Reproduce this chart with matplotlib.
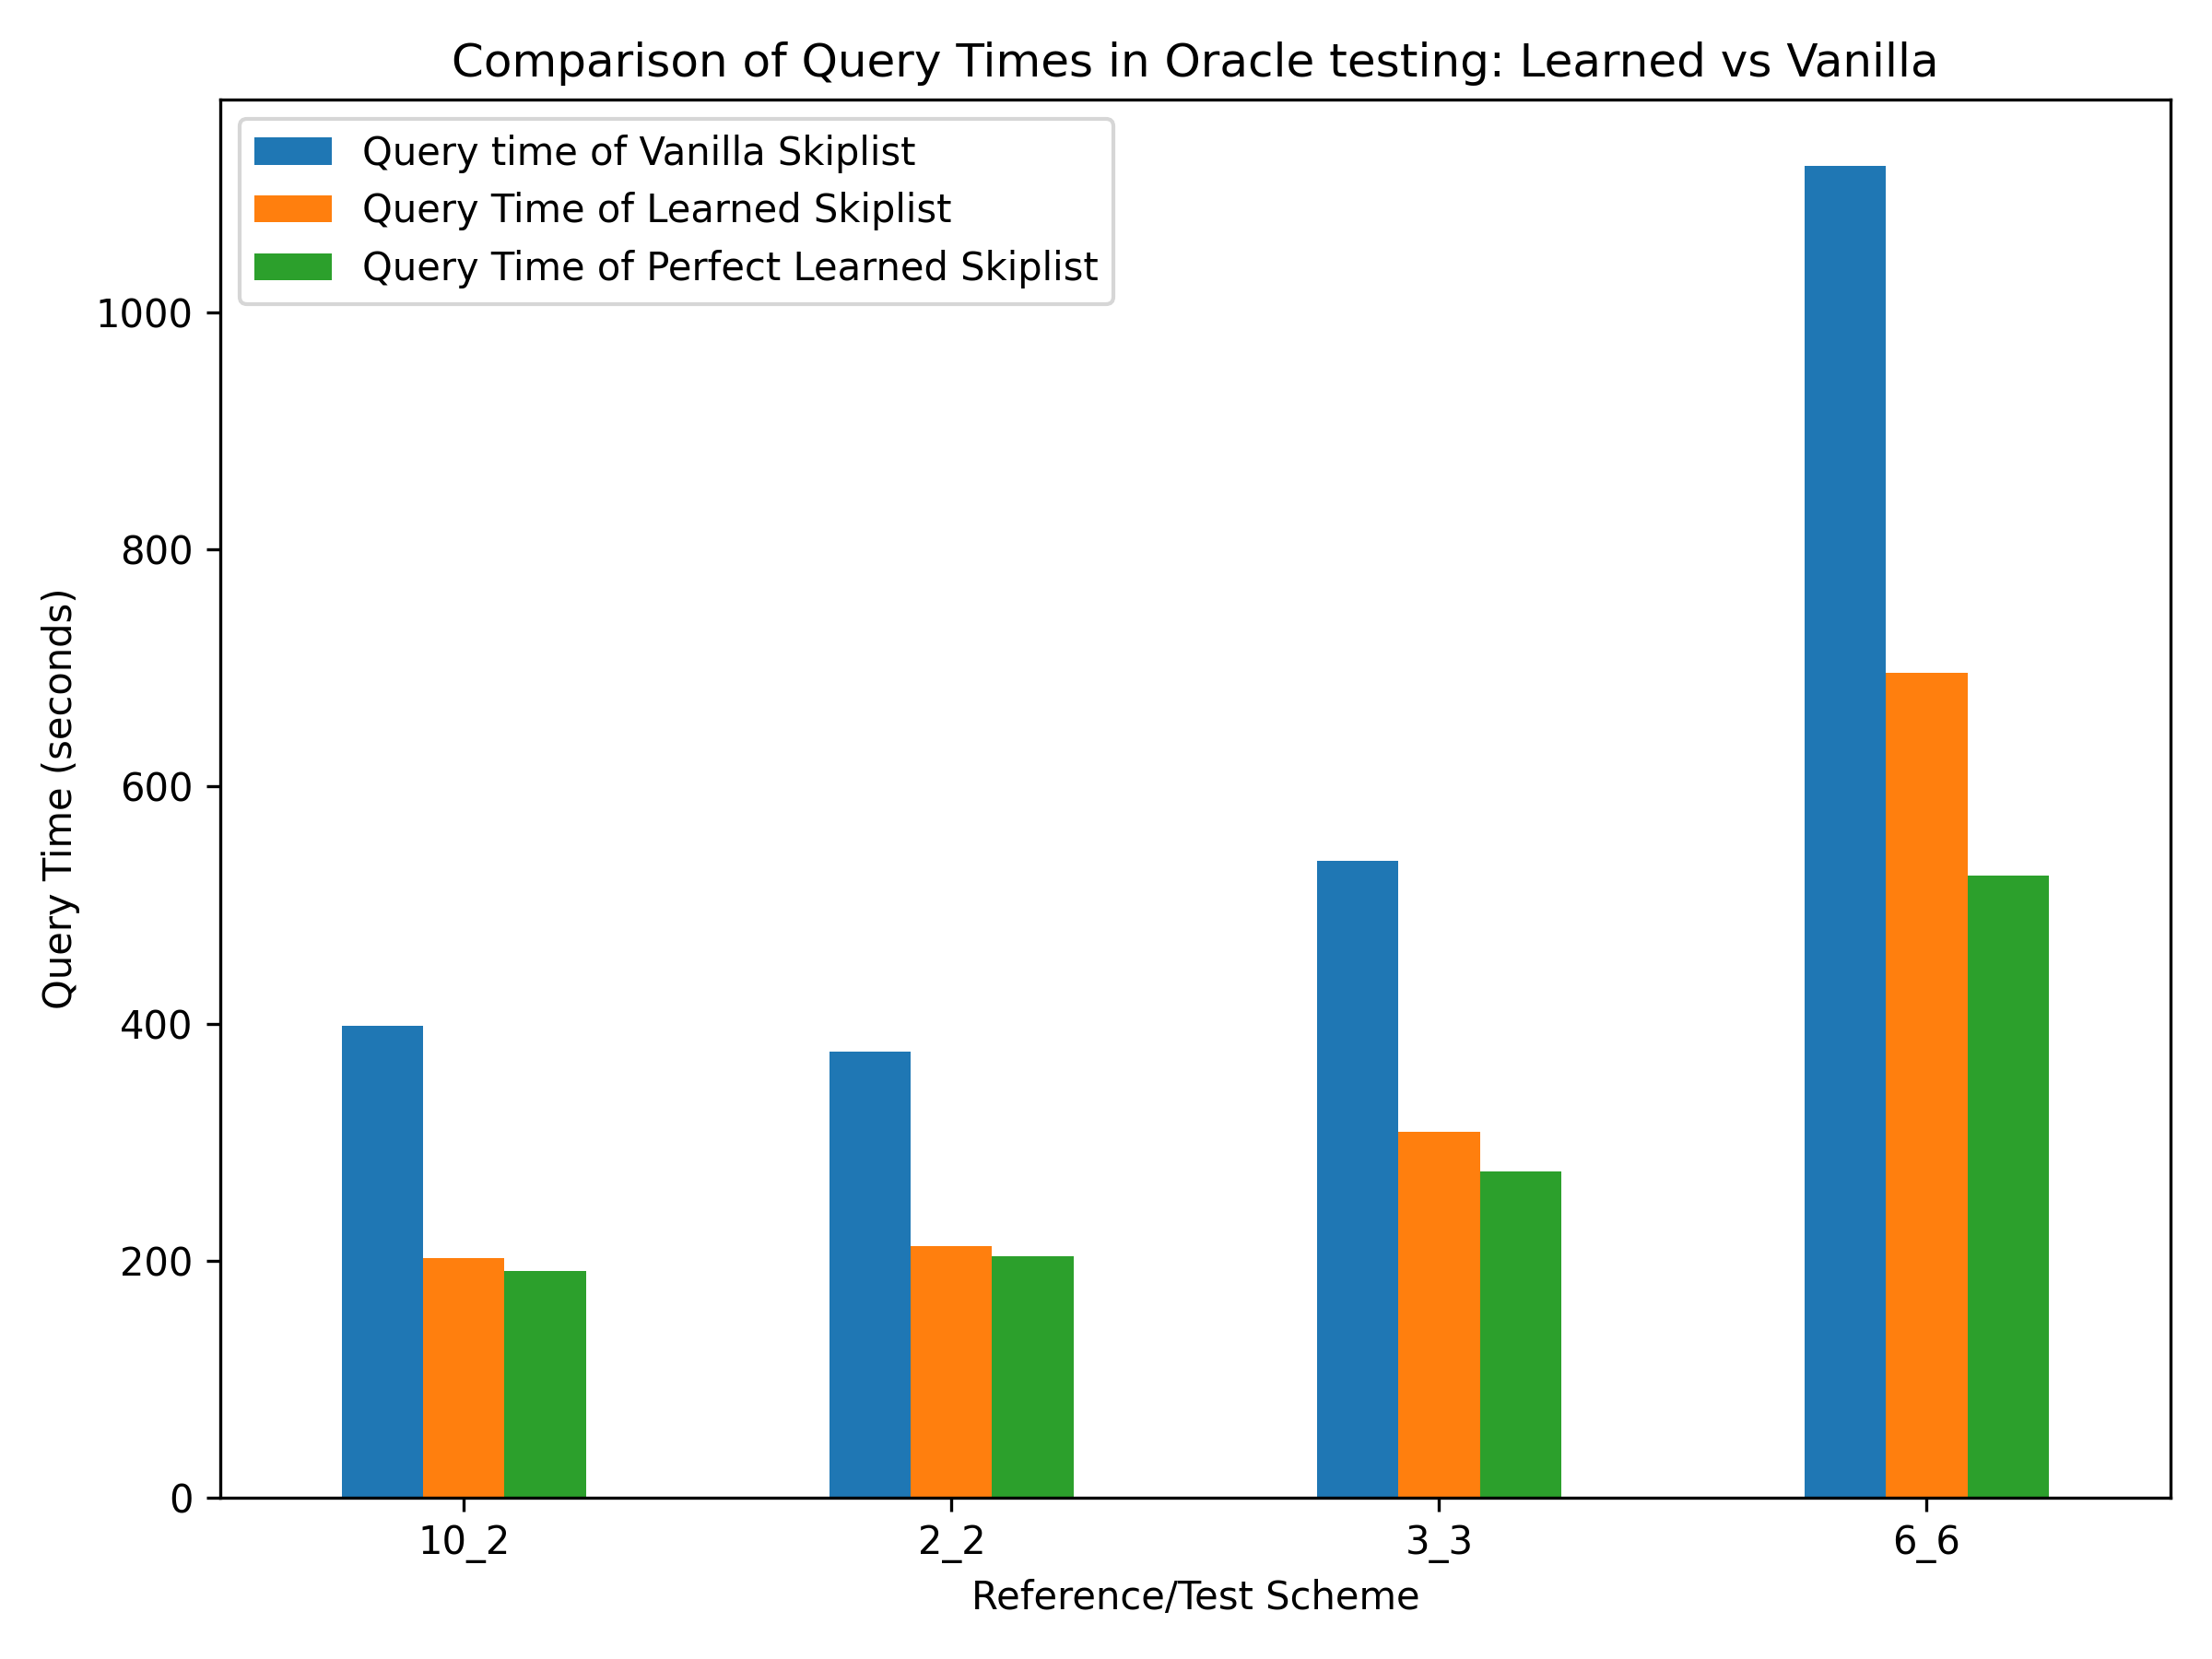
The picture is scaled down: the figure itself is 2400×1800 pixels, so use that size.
import matplotlib
matplotlib.use("Agg")
import matplotlib.pyplot as plt
import numpy as np

schemes = ["10_2", "2_2", "3_3", "6_6"]
vanilla = [398, 376, 537, 1123]
learned = [202, 212, 309, 696]
perfect = [191, 204, 275, 525]

labels = ["Query time of Vanilla Skiplist",
          "Query Time of Learned Skiplist",
          "Query Time of Perfect Learned Skiplist"]

x = np.arange(len(schemes))
w = 0.5 / 3

fig, ax = plt.subplots(figsize=(8, 6), dpi=300)
ax.bar(x - w, vanilla, w, label=labels[0], color="#1f77b4")
ax.bar(x, learned, w, label=labels[1], color="#ff7f0e")
ax.bar(x + w, perfect, w, label=labels[2], color="#2ca02c")

ax.set_xticks(x)
ax.set_xticklabels(schemes)
ax.set_xlim(-0.5, len(schemes) - 0.5)
ax.set_xlabel("Reference/Test Scheme")
ax.set_ylabel("Query Time (seconds)")
ax.set_title("Comparison of Query Times in Oracle testing: Learned vs Vanilla")
ax.legend(loc="upper left")

plt.tight_layout()
plt.savefig("out.png")
